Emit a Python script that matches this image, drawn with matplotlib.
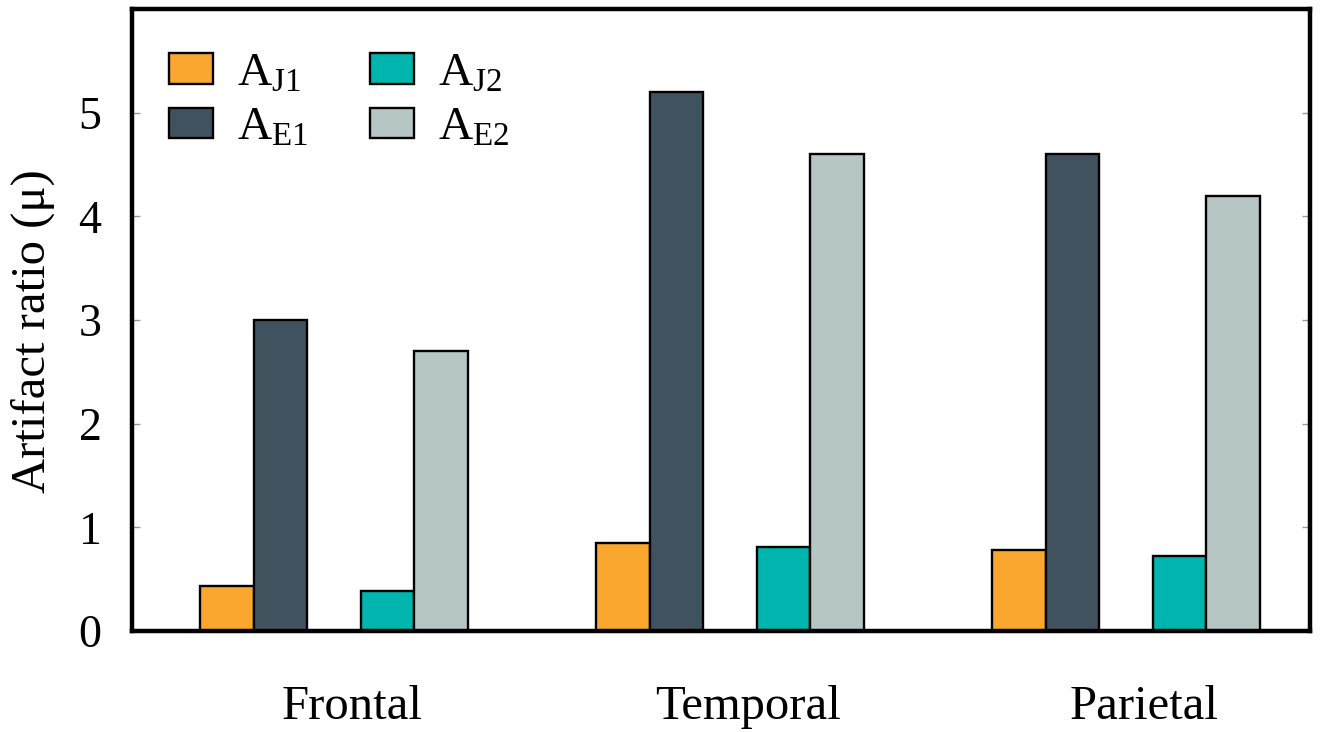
import numpy as np
import matplotlib
matplotlib.use('Agg')
import matplotlib.pyplot as plt

plt.rcParams['font.family'] = ['Liberation Serif', 'DejaVu Serif']
plt.rcParams['mathtext.fontset'] = 'custom'
plt.rcParams['mathtext.rm'] = 'Liberation Serif'

# Data
regions = ['Frontal', 'Temporal', 'Parietal']
a_j1 = [0.43, 0.85, 0.78]
a_e1 = [3.0, 5.2, 4.6]
a_j2 = [0.39, 0.81, 0.72]
a_e2 = [2.7, 4.6, 4.2]
series_labels = [r'$\mathregular{A_{J1}}$', r'$\mathregular{A_{E1}}$',
                 r'$\mathregular{A_{J2}}$', r'$\mathregular{A_{E2}}$']
colors = ['#F9A72F', '#41525F', '#00B5AD', '#B5C6C5']
y_ticks = [0, 1, 2, 3, 4, 5]

fig = plt.figure(figsize=(13.21, 7.32), dpi=100)
ax = fig.add_axes([0.0999, 0.138, 0.8918, 0.8497])

x = np.arange(len(regions))
w = 0.135
offsets = [-0.27, -0.135, 0.135, 0.27]
bars = []
for vals, off, c, lab in zip([a_j1, a_e1, a_j2, a_e2], offsets, colors, series_labels):
    b = ax.bar(x + off, vals, w, color=c, edgecolor='black', linewidth=1.7, label=lab)
    bars.append(b)

ax.set_xlim(-0.51, 2.465)
ax.set_ylim(0, 6)
# category labels sit a little right of the group centres in the original
ax.set_xticks(x + 0.045)
ax.set_xticklabels(regions, fontsize=35)
ax.set_yticks(y_ticks)
ax.set_yticklabels([str(t) for t in y_ticks], fontsize=33)
ax.tick_params(axis='x', length=0, pad=39)
ax.tick_params(axis='y', direction='in', length=6, width=1, color='#999999',
               left=True, right=True, pad=22)
ax.set_ylabel('Artifact ratio (\u03bc)', fontsize=35, va='center')
ax.yaxis.set_label_coords(-0.084, 0.482)

for s in ax.spines.values():
    s.set_linewidth(3.2)
    s.set_color('black')

# legend in two columns: J1/E1 then J2/E2
leg = ax.legend(handles=bars, ncol=2, loc='upper left', bbox_to_anchor=(-0.005, 0.998),
                frameon=False, fontsize=34, handlelength=0.95, handleheight=0.62,
                handletextpad=0.5, columnspacing=1.3, labelspacing=0.25)

fig.savefig('out.png', dpi=100)
